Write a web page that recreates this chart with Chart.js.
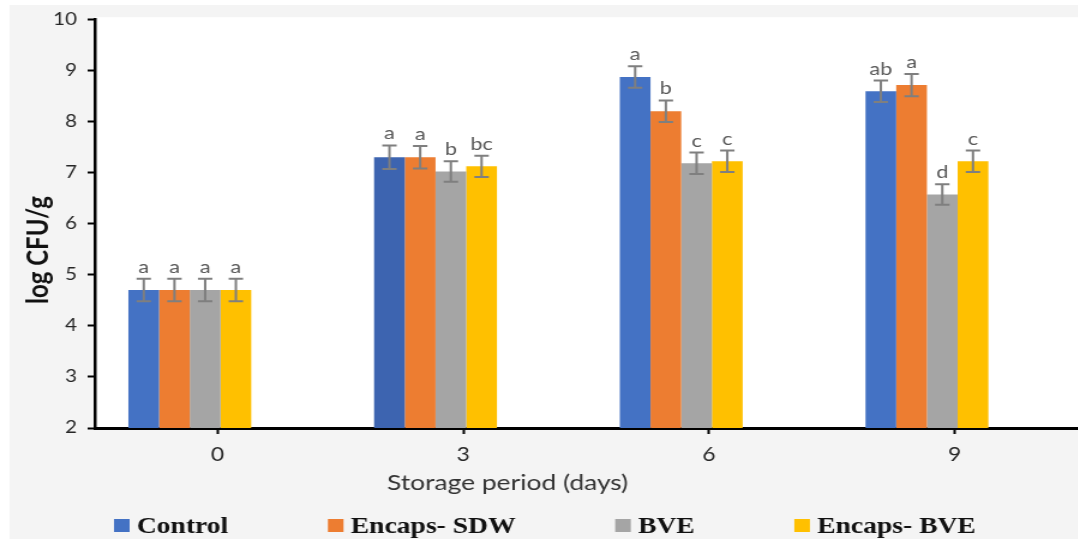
<!DOCTYPE html>
<html>
<head>
<meta charset="utf-8">
<script src="https://cdn.jsdelivr.net/npm/chart.js@4"></script>
<style>
  html, body { margin: 0; padding: 0; background: #fff; overflow: hidden; }
  /* the chart is laid out on a narrower canvas and widened horizontally */
  #wrap { width: 898px; height: 544px; transform: scaleX(1.2); transform-origin: 0 0; }
</style>
</head>
<body>
<div id="wrap"><canvas id="c" width="898" height="544"></canvas></div>
<script>
// Storage days (x categories)
const days = [0, 3, 6, 9];
const yTicks = [2, 3, 4, 5, 6, 7, 8, 9, 10];

// Series names and axis titles
const seriesNames = ['Control', 'Encaps- SDW', 'BVE', 'Encaps- BVE'];
const xTitle = 'Storage period (days)';
const yTitle = 'log CFU/g';

// Mean log CFU/g per storage day
const controlVals   = [4.70, 7.30, 8.87, 8.59];
const encapsSdwVals = [4.70, 7.30, 8.20, 8.71];
const bveVals       = [4.70, 7.02, 7.18, 6.57];
const encapsBveVals = [4.70, 7.12, 7.22, 7.22];

// Standard error (+/-)
const controlErr   = [0.22, 0.23, 0.21, 0.21];
const encapsSdwErr = [0.22, 0.22, 0.21, 0.22];
const bveErr       = [0.22, 0.20, 0.21, 0.20];
const encapsBveErr = [0.22, 0.21, 0.21, 0.21];

// Significance letters
const controlLetters   = ['a', 'a', 'a', 'ab'];
const encapsSdwLetters = ['a', 'a', 'b', 'a'];
const bveLetters       = ['a', 'b', 'c', 'd'];
const encapsBveLetters = ['a', 'bc', 'c', 'c'];

const colors = ['#4472C4', '#ED7D31', '#A5A5A5', '#FFC000'];

function makeSet(i, vals, errs, letters, fill) {
  return {
    label: seriesNames[i],
    data: days.map((d, k) => ({ x: d, y: vals[k] })),
    errors: errs,
    letters: letters,
    legendColor: colors[i],
    backgroundColor: fill || colors[i],
    borderWidth: 0,
    xAxisID: 'xb',
    yAxisID: 'y',
    categoryPercentage: 0.5,
    barPercentage: 1.0
  };
}

const datasets = [
  makeSet(0, controlVals, controlErr, controlLetters, ['#4472C4', '#3D64B0', '#4472C4', '#4472C4']),
  makeSet(1, encapsSdwVals, encapsSdwErr, encapsSdwLetters),
  makeSet(2, bveVals, bveErr, bveLetters),
  makeSet(3, encapsBveVals, encapsBveErr, encapsBveLetters)
];

const dayTicks = s => { s.ticks = days.map(v => ({ value: v })); };

// panel backgrounds
const backdrop = {
  id: 'backdrop',
  beforeDraw(chart) {
    const { ctx, chartArea: a, width, height } = chart;
    ctx.save();
    ctx.fillStyle = '#ffffff';
    ctx.fillRect(0, 0, width, height);
    ctx.fillStyle = '#f4f4f4';
    ctx.fillRect(8, 5, width - 8, height - 10);
    ctx.fillStyle = '#ffffff';
    ctx.fillRect(a.left, a.top - 2, a.right - a.left, a.bottom - a.top + 2);
    ctx.restore();
  }
};

// error bars with significance letters
const errorBars = {
  id: 'errorBars',
  afterDatasetsDraw(chart) {
    const { ctx } = chart;
    const y = chart.scales.y;
    ctx.save();
    chart.data.datasets.forEach((ds, i) => {
      const meta = chart.getDatasetMeta(i);
      meta.data.forEach((bar, j) => {
        const v = ds.data[j].y, e = ds.errors[j];
        const yt = y.getPixelForValue(v + e);
        const yb = y.getPixelForValue(v - e);
        const x = bar.x;
        ctx.strokeStyle = '#7f7f7f';
        ctx.lineWidth = 2;
        ctx.beginPath();
        ctx.moveTo(x, yt); ctx.lineTo(x, yb);
        ctx.moveTo(x - 6, yt); ctx.lineTo(x + 6, yt);
        ctx.moveTo(x - 6, yb); ctx.lineTo(x + 6, yb);
        ctx.stroke();
        ctx.fillStyle = '#595959';
        ctx.font = '18px Lato';
        ctx.textAlign = 'center';
        ctx.textBaseline = 'alphabetic';
        ctx.fillText(ds.letters[j], x, yt - 6);
      });
    });
    ctx.restore();
  }
};

// axis titles and the series key along the bottom
const titlesAndKey = {
  id: 'titlesAndKey',
  afterDraw(chart) {
    const { ctx } = chart;
    ctx.save();
    // x title
    ctx.font = '22px Lato';
    ctx.fillStyle = '#333333';
    ctx.textAlign = 'center';
    ctx.textBaseline = 'middle';
    ctx.fillText(xTitle, 423, 483);
    // y title
    ctx.save();
    ctx.translate(32, 250);
    ctx.rotate(-Math.PI / 2);
    ctx.font = 'bold 24px Lato';
    ctx.fillStyle = '#111111';
    ctx.fillText(yTitle, 0, 0);
    ctx.restore();
    // series key
    ctx.font = 'bold 23px "Liberation Serif"';
    ctx.textBaseline = 'alphabetic';
    ctx.textAlign = 'left';
    let x = 95;
    chart.data.datasets.forEach(ds => {
      ctx.fillStyle = ds.legendColor;
      ctx.fillRect(x, 519, 13, 13);
      x += 19;
      ctx.fillStyle = '#111111';
      ctx.fillText(ds.label, x, 533);
      x += ctx.measureText(ds.label).width + 83;
    });
    ctx.restore();
  }
};

new Chart(document.getElementById('c'), {
  type: 'bar',
  data: { datasets },
  options: {
    responsive: false,
    animation: false,
    events: [],
    layout: { padding: { top: 17, right: 0, left: 0, bottom: 0 } },
    plugins: { legend: { display: false }, tooltip: { enabled: false } },
    scales: {
      xb: {
        type: 'linear',
        display: false,
        offset: false,
        grid: { offset: false },
        min: -1.16,
        max: 10.84,
        afterBuildTicks: dayTicks
      },
      x: {
        type: 'linear',
        position: 'bottom',
        offset: false,
        min: -1.5,
        max: 10.5,
        afterBuildTicks: dayTicks,
        afterFit(s) { s.height = 116; },
        border: { display: true, color: '#000', width: 3 },
        grid: { offset: false, drawOnChartArea: false, drawTicks: true, tickLength: 6, tickColor: '#000', tickWidth: 2 },
        ticks: { color: '#262626', font: { family: 'Lato', size: 19 }, padding: 9, autoSkip: false, maxRotation: 0 }
      },
      y: {
        type: 'linear',
        min: 2,
        max: 10,
        afterBuildTicks(s) { s.ticks = yTicks.map(v => ({ value: v })); },
        afterFit(s) { s.width = 79; },
        border: { display: true, color: '#000', width: 2.5 },
        grid: { drawOnChartArea: false, drawTicks: true, tickLength: 6, tickColor: '#000', tickWidth: 2 },
        ticks: { color: '#262626', font: { family: 'Lato', size: 17 }, padding: 9 }
      }
    }
  },
  plugins: [backdrop, errorBars, titlesAndKey]
});
</script>
</body>
</html>
